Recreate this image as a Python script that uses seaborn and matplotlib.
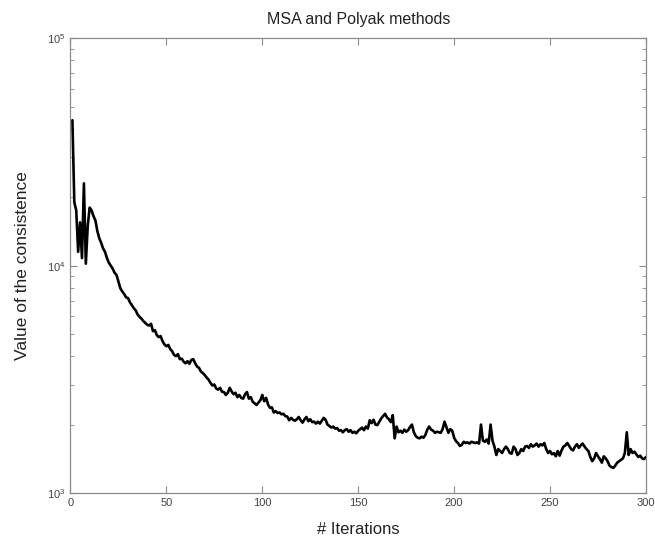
import numpy as np
import pandas as pd
import matplotlib
matplotlib.use("Agg")
import matplotlib.pyplot as plt
import seaborn as sns
from matplotlib.ticker import LogLocator, LogFormatterMathtext, NullFormatter

# Consistence value per iteration (iterations 1..300)
consistence = [
    43600, 19000, 17500, 11500, 15500, 10800, 23000, 10200, 15000, 18000,
    17500, 16500, 15800, 14200, 13200, 12600, 11900, 11500, 10800, 10300,
    10000, 9700, 9300, 9100, 8500, 7950, 7700, 7500, 7250, 7200,
    6900, 6700, 6500, 6350, 6100, 5950, 5850, 5700, 5600, 5500,
    5450, 5550, 5150, 5200, 4950, 4850, 4900, 4650, 4500, 4420,
    4480, 4300, 4200, 4050, 4000, 4080, 3880, 3900, 3780, 3720,
    3800, 3700, 3850, 3880, 3720, 3600, 3550, 3420, 3370, 3300,
    3220, 3150, 3050, 2970, 3000, 2880, 2850, 2900, 2790, 2780,
    2700, 2760, 2900, 2800, 2720, 2760, 2640, 2700, 2620, 2600,
    2720, 2780, 2600, 2640, 2520, 2480, 2440, 2500, 2560, 2700,
    2530, 2620, 2450, 2370, 2380, 2260, 2290, 2250, 2260, 2220,
    2230, 2180, 2170, 2090, 2140, 2100, 2080, 2110, 2160, 2090,
    2040, 2110, 2160, 2070, 2110, 2050, 2060, 2020, 2060, 2020,
    2080, 2140, 2100, 2000, 1970, 1940, 1960, 1920, 1930, 1880,
    1890, 1850, 1890, 1910, 1860, 1890, 1840, 1860, 1830, 1880,
    1910, 1940, 1890, 1960, 1920, 2090, 2030, 2100, 2000, 1990,
    2060, 2130, 2180, 2230, 2150, 2110, 2050, 2200, 1740, 1960,
    1850, 1880, 1840, 1900, 1860, 1890, 1950, 2000, 1850, 1780,
    1750, 1740, 1770, 1750, 1800, 1900, 1960, 1900, 1880, 1840,
    1860, 1850, 1840, 1910, 2060, 1950, 1840, 1910, 1880, 1750,
    1690, 1660, 1610, 1630, 1680, 1660, 1670, 1650, 1680, 1670,
    1660, 1670, 1650, 2000, 1700, 1680, 1720, 1650, 2000, 1700,
    1600, 1470, 1560, 1530, 1500, 1560, 1600, 1560, 1500, 1490,
    1600, 1560, 1470, 1500, 1560, 1530, 1600, 1610, 1580, 1640,
    1600, 1620, 1650, 1600, 1640, 1620, 1660, 1560, 1500, 1530,
    1480, 1500, 1450, 1530, 1460, 1540, 1600, 1620, 1660, 1610,
    1560, 1540, 1600, 1640, 1580, 1620, 1650, 1600, 1560, 1530,
    1440, 1380, 1420, 1500, 1450, 1410, 1360, 1450, 1420, 1380,
    1320, 1300, 1290, 1320, 1360, 1380, 1400, 1420, 1500, 1850,
    1470, 1560, 1500, 1520, 1480, 1440, 1460, 1420, 1410, 1440,
]
iterations = list(range(1, len(consistence) + 1))

x_ticks = [0, 50, 100, 150, 200, 250, 300]

sns.set_style("ticks")
plt.rcParams["font.family"] = ["Liberation Sans", "DejaVu Sans"]

df = pd.DataFrame({"iter": iterations, "value": consistence})

fig = plt.figure(figsize=(6.55, 5.46), dpi=100)
ax = fig.add_axes([0.1076, 0.097, 0.8786, 0.833])

sns.lineplot(data=df, x="iter", y="value", ax=ax, color="black", linewidth=1.9)

ax.set_yscale("log")
ax.set_xlim(0, 300)
ax.set_ylim(1e3, 1e5)
ax.set_xticks(x_ticks)
ax.yaxis.set_major_locator(LogLocator(base=10, numticks=5))
ax.yaxis.set_major_formatter(LogFormatterMathtext())
ax.yaxis.set_minor_locator(LogLocator(base=10, subs=np.arange(2, 10), numticks=20))
ax.yaxis.set_minor_formatter(NullFormatter())

spine_col = "#8a8a8a"
for s in ax.spines.values():
    s.set_visible(True)
    s.set_color(spine_col)
    s.set_linewidth(0.9)

ax.tick_params(which="both", direction="in", top=True, right=True,
               color=spine_col, labelcolor="#444444", labelsize=8)
ax.tick_params(which="major", length=5, width=0.8)
ax.tick_params(which="minor", length=3, width=0.6)

ax.set_title("MSA and Polyak methods", fontsize=11.5, color="#222222", pad=10)
ax.set_xlabel("# Iterations", fontsize=12, color="#222222", labelpad=10)
ax.set_ylabel("Value of the consistence", fontsize=12.5, color="#222222", labelpad=12)

fig.savefig("out.png", dpi=100)
